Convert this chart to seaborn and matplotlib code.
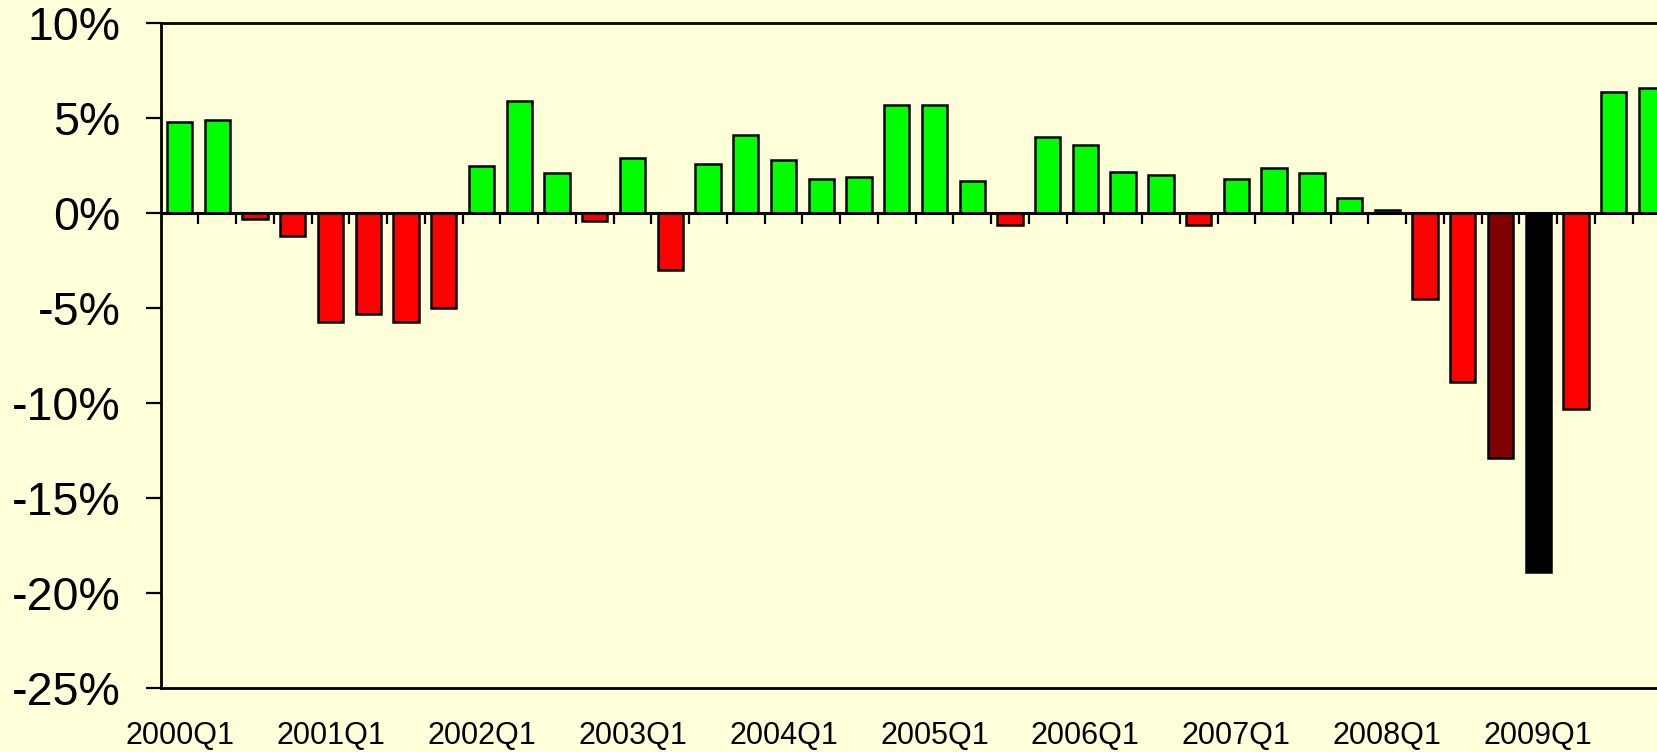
import numpy as np
import pandas as pd
import seaborn as sns
import matplotlib
matplotlib.use("Agg")
import matplotlib.pyplot as plt

# quarterly change, percent
quarters = [f"{y}Q{q}" for y in range(2000, 2010) for q in range(1, 5)]
growth = [4.8, 4.9, -0.3, -1.2,
          -5.7, -5.3, -5.7, -5.0,
          2.5, 5.9, 2.1, -0.4,
          2.9, -3.0, 2.6, 4.1,
          2.8, 1.8, 1.9, 5.7,
          5.7, 1.7, -0.6, 4.0,
          3.6, 2.2, 2.0, -0.6,
          1.8, 2.4, 2.1, 0.8,
          0.2, -4.5, -8.9, -12.9,
          -18.9, -10.3, 6.4, 6.6]
highlight = {"2008Q4": "#800000", "2009Q1": "#000000"}
year_labels = [q for q in quarters if q.endswith("Q1")]

bg = "#FFFFD9"

df = pd.DataFrame({"quarter": quarters, "growth": growth})
palette = {}
for q, v in zip(quarters, growth):
    palette[q] = highlight.get(q, "#00FF00" if v >= 0 else "#FF0000")

sns.set_style("white")
plt.rcParams["font.family"] = ["Liberation Sans", "DejaVu Sans"]

fig = plt.figure(figsize=(16.58, 7.52), dpi=100, facecolor=bg)
ax = fig.add_axes([0.0969, 0.0851, 0.9106, 0.8837])
ax.set_facecolor(bg)

sns.barplot(data=df, x="quarter", y="growth", hue="quarter", palette=palette,
            legend=False, width=0.67, edgecolor="black", linewidth=1.8,
            saturation=1, ax=ax, zorder=2)

ax.set_xlim(-0.5, len(quarters) - 0.5)
ax.set_ylim(-25, 10)
ax.set_yticks(np.arange(-25, 11, 5))
ax.set_yticklabels([f"{t}%" for t in range(-25, 11, 5)], fontsize=33.5)
ax.set_xticks([quarters.index(q) for q in year_labels])
ax.set_xticklabels(year_labels, fontsize=22)
ax.set_xlabel("")
ax.set_ylabel("")
ax.tick_params(axis="y", direction="out", length=11, width=1.6, pad=18,
               left=True, colors="black")
ax.tick_params(axis="x", length=0, pad=24, colors="black")

for side in ["left", "top", "bottom"]:
    ax.spines[side].set_visible(True)
    ax.spines[side].set_color("black")
    ax.spines[side].set_linewidth(2)
ax.spines["right"].set_visible(False)

# zero line with small separators between quarters, hanging down
ax.axhline(0, color="black", lw=2.2, zorder=3)
ax.vlines(np.arange(0.5, len(quarters) - 0.5, 1), -0.55, 0,
          color="black", lw=1.6, zorder=3)

fig.savefig("out.png", dpi=100, facecolor=bg)
